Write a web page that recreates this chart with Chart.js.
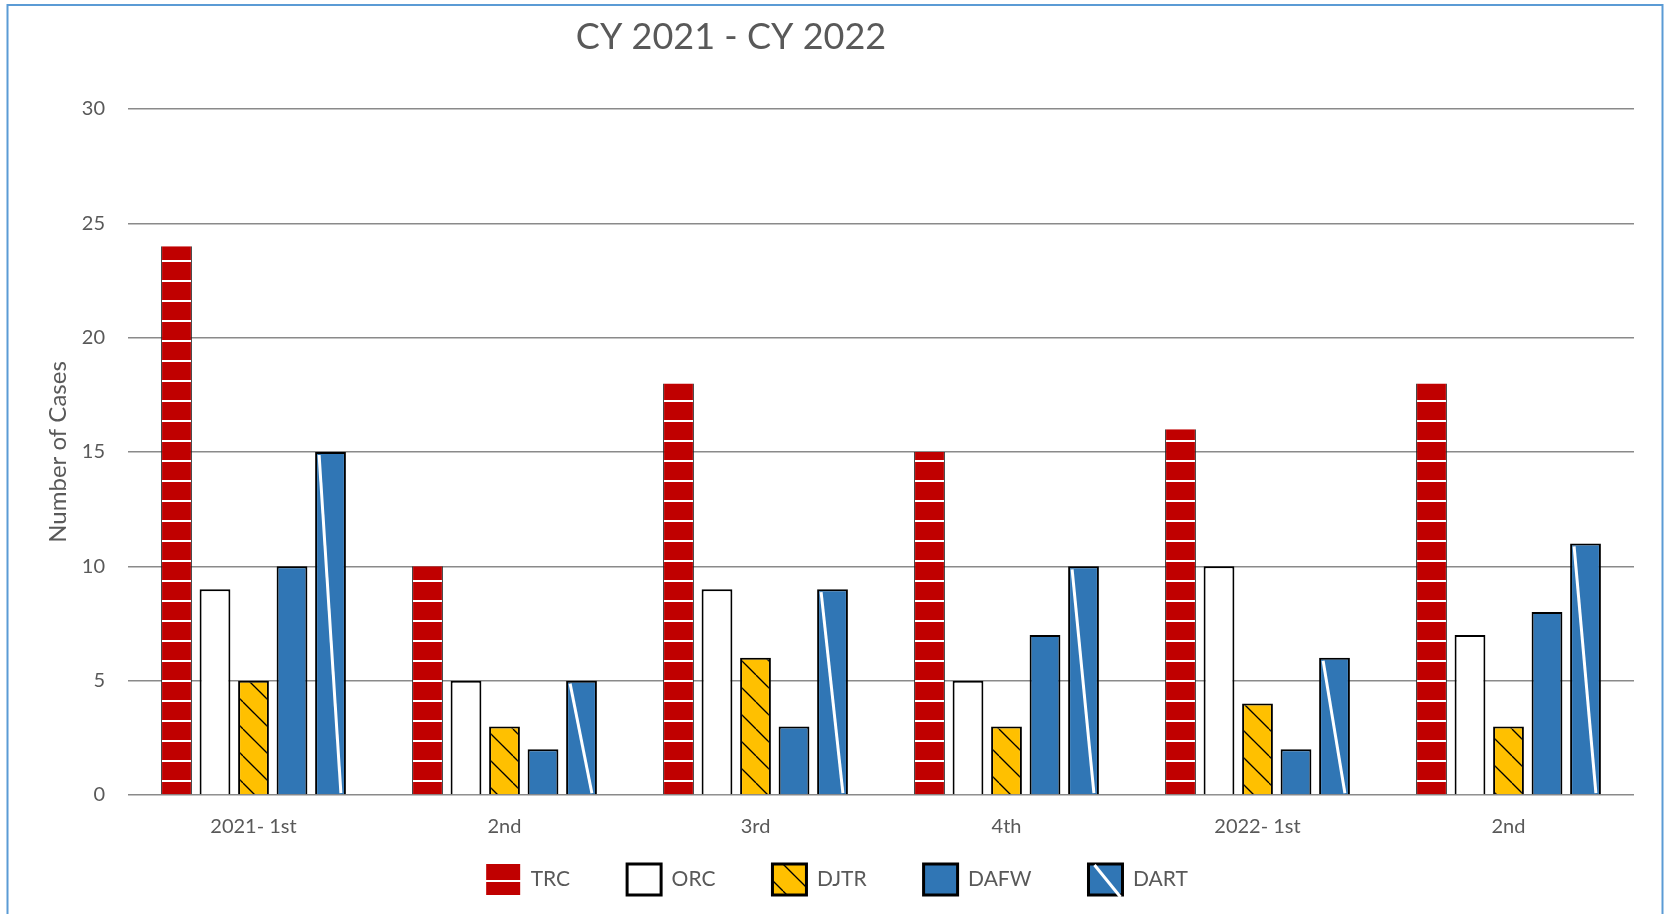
<!DOCTYPE html>
<html>
<head>
<meta charset="utf-8">
<title>CY 2021 - CY 2022</title>
<script src="https://cdn.jsdelivr.net/npm/chart.js@4/dist/chart.umd.min.js"></script>
<style>
  html, body { margin: 0; padding: 0; background: #fff; }
  #wrap { width: 1667px; height: 914px; position: relative; }
</style>
</head>
<body>
<div id="wrap"><canvas id="casesChart"></canvas></div>
<script>
const quarters = ['2021- 1st', '2nd', '3rd', '4th', '2022- 1st', '2nd'];
const seriesNames = ['TRC', 'ORC', 'DJTR', 'DAFW', 'DART'];
const trcCases = [24, 10, 18, 15, 16, 18];
const orcCases = [9, 5, 9, 5, 10, 7];
const djtrCases = [5, 3, 6, 3, 4, 3];
const dafwCases = [10, 2, 3, 7, 2, 8];
const dartCases = [15, 5, 9, 10, 6, 11];
const yTicks = [0, 5, 10, 15, 20, 25, 30];

const chartTitle = 'CY 2021 - CY 2022';
const textGrey = '#595959';
const fontFamily = 'Lato, "Open Sans", sans-serif';
const legendPad = 57;

// red with white horizontal stripes
function stripePattern() {
  const c = document.createElement('canvas');
  c.width = 10; c.height = 20;
  const g = c.getContext('2d');
  g.fillStyle = '#C00000';
  g.fillRect(0, 0, 10, 20);
  g.fillStyle = '#ffffff';
  g.fillRect(0, 0, 10, 2);
  return g.createPattern(c, 'repeat');
}

// yellow with thin black "\" hatching
function hatchPattern() {
  const s = 27;
  const c = document.createElement('canvas');
  c.width = s; c.height = s;
  const g = c.getContext('2d');
  g.fillStyle = '#FFC000';
  g.fillRect(0, 0, s, s);
  g.strokeStyle = '#000000';
  g.lineWidth = 1.3;
  [-s, 0, s].forEach(k => {
    g.beginPath();
    g.moveTo(k, 0);
    g.lineTo(k + s, s);
    g.stroke();
  });
  return g.createPattern(c, 'repeat');
}

const frameAndTitle = {
  id: 'frameAndTitle',
  afterLayout(chart) {
    // let the legend row start right under the category labels
    const lg = chart.legend;
    lg.top = chart.chartArea.bottom + 69 - legendPad;
    lg.height = lg.bottom - lg.top;
  },
  beforeDraw(chart) {
    const ctx = chart.ctx;
    ctx.save();
    ctx.fillStyle = '#ffffff';
    ctx.fillRect(0, 0, chart.width, chart.height);
    ctx.strokeStyle = '#5B9BD5';
    ctx.lineWidth = 2;
    ctx.strokeRect(7.5, 5, 1655, 1000);
    ctx.restore();
  },
  afterDraw(chart) {
    const ctx = chart.ctx;
    ctx.save();
    ctx.fillStyle = textGrey;
    ctx.font = '36px ' + fontFamily;
    ctx.textAlign = 'center';
    ctx.textBaseline = 'middle';
    ctx.fillText(chartTitle, 731, 37);

    // white slash on the DART legend box
    const hb = chart.legend.legendHitBoxes[4];
    if (hb) {
      ctx.strokeStyle = '#ffffff';
      ctx.lineWidth = 3;
      ctx.beginPath();
      ctx.moveTo(hb.left + 6, hb.top + 1);
      ctx.lineTo(hb.left + 32, hb.top + 33);
      ctx.stroke();
    }
    ctx.restore();
  },
  afterDatasetsDraw(chart) {
    // white slash across each DART bar
    const ctx = chart.ctx;
    const meta = chart.getDatasetMeta(4);
    ctx.save();
    ctx.strokeStyle = '#ffffff';
    ctx.lineWidth = 3;
    meta.data.forEach(bar => {
      const left = bar.x - bar.width / 2;
      const right = bar.x + bar.width / 2;
      ctx.beginPath();
      ctx.moveTo(left + 4, bar.y + 3);
      ctx.lineTo(right - 5, bar.base - 1);
      ctx.stroke();
    });
    ctx.restore();
  }
};

const ctx = document.getElementById('casesChart').getContext('2d');

new Chart(ctx, {
  type: 'bar',
  data: {
    labels: quarters,
    datasets: [
      { label: seriesNames[0], data: trcCases, backgroundColor: stripePattern(),
        borderColor: '#222222', borderWidth: { left: 1, right: 1, top: 0, bottom: 0 } },
      { label: seriesNames[1], data: orcCases, backgroundColor: '#ffffff',
        borderColor: '#000000', borderWidth: 2 },
      { label: seriesNames[2], data: djtrCases, backgroundColor: hatchPattern(),
        borderColor: '#000000', borderWidth: 2 },
      { label: seriesNames[3], data: dafwCases, backgroundColor: '#3076B5',
        borderColor: '#000000', borderWidth: 2 },
      { label: seriesNames[4], data: dartCases, backgroundColor: '#3076B5',
        borderColor: '#000000', borderWidth: 2 }
    ]
  },
  options: {
    responsive: true,
    maintainAspectRatio: false,
    animation: false,
    events: [],
    layout: { padding: { left: 40, right: 33, top: 109, bottom: 0 } },
    datasets: {
      bar: { categoryPercentage: 0.767, barPercentage: 0.8 }
    },
    plugins: {
      title: { display: false },
      tooltip: { enabled: false },
      legend: {
        position: 'bottom',
        maxHeight: 75,
        labels: {
          boxWidth: 34,
          boxHeight: 31,
          padding: legendPad,
          color: textGrey,
          font: { family: fontFamily, size: 21 },
          generateLabels(chart) {
            const items = Chart.defaults.plugins.legend.labels.generateLabels(chart);
            items.forEach((it, i) => {
              it.lineWidth = i === 0 ? 0 : 3;
              it.strokeStyle = '#000000';
            });
            return items;
          }
        }
      }
    },
    scales: {
      x: {
        grid: { display: false, drawTicks: false },
        border: { display: false },
        ticks: { color: textGrey, padding: 20, font: { family: fontFamily, size: 20 } },
        afterFit(scale) { scale.height = 44; }
      },
      y: {
        min: 0,
        max: 30,
        afterBuildTicks(axis) { axis.ticks = yTicks.map(v => ({ value: v })); },
        grid: { color: '#8a8a8a', lineWidth: 1.6, drawTicks: false },
        border: { display: false },
        ticks: { color: textGrey, padding: 23, font: { family: fontFamily, size: 20 } },
        title: {
          display: true,
          text: 'Number of Cases',
          color: textGrey,
          padding: { top: 4, bottom: 0 },
          font: { family: fontFamily, size: 24 }
        },
        afterFit(scale) { scale.width = 88; }
      }
    }
  },
  plugins: [frameAndTitle]
});
</script>
</body>
</html>
